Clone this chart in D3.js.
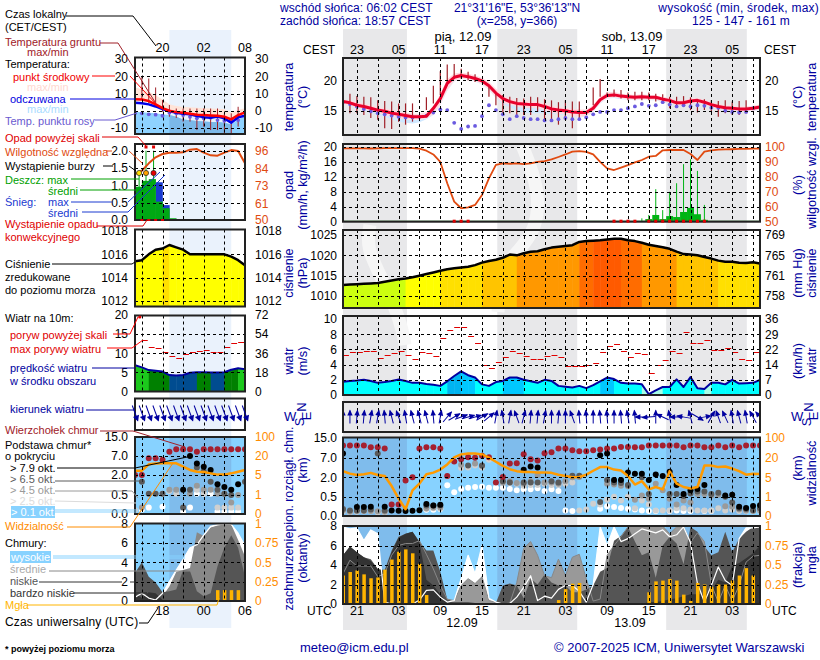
<!DOCTYPE html>
<html><head><meta charset="utf-8">
<script src="https://cdn.jsdelivr.net/npm/d3@7"></script>
<style>
html,body{margin:0;padding:0;background:#fff}
svg{display:block}
text{font-family:"Liberation Sans",Arial,sans-serif;font-size:12px}
.tick text{font-family:"Liberation Sans",Arial,sans-serif;font-size:12px}
</style></head><body><div id="c"></div>
<script>
const _=null;
/* ---------- main meteogram data: hourly, h0 = 19 UTC 11.09 ---------- */
const tempMid=[16.5,16.3,15.9,15.7,15.4,15.1,14.9,14.6,14.4,14.2,14.0,14.0,14.1,15.4,17.0,19.5,20.5,20.8,20.6,20.3,19.9,19.1,17.9,17.0,16.5,16.2,16.1,16.0,16.0,15.7,15.3,15.1,15.0,14.8,14.7,14.7,15.4,16.8,17.5,17.6,17.4,17.3,17.2,17.3,17.2,17.2,16.9,16.7,16.3,16.3,16.6,16.7,16.4,16.0,15.7,15.5,15.4,15.3,15.3,15.4,15.6];
const tempMax=[16.8,16.7,16.4,16.2,15.9,15.6,15.4,15.1,14.9,14.7,14.5,14.5,14.8,15.6,17.8,20.2,21.1,21.3,21.1,20.8,20.4,19.7,18.6,17.6,17.0,16.7,16.6,16.5,16.5,16.2,15.8,15.6,15.5,15.3,15.2,15.2,15.9,17.3,18.0,18.1,17.8,17.7,17.6,17.7,17.6,17.5,17.3,17.1,16.7,16.7,17.0,17.1,16.8,16.4,16.1,15.9,15.8,15.7,15.7,15.8,16.0];
const tempMin=[16.1,15.9,15.5,15.2,14.9,14.6,14.3,14.0,13.7,13.6,13.5,13.5,13.7,14.4,16.0,18.4,19.9,20.3,20.2,19.9,19.4,18.5,17.2,16.3,16.0,15.7,15.5,15.5,15.4,15.1,14.7,14.5,14.4,14.1,14.0,14.1,14.9,16.3,17.1,17.2,17.0,16.9,16.8,16.9,16.8,16.8,16.5,16.3,15.9,15.9,16.1,16.3,16.0,15.6,15.3,15.1,15.0,14.9,14.9,15.0,15.2];
const feelsMin=[16,15.8,15.4,15,14.7,14.3,14,13.6,13.2,13,12.9,13.1,13.6,14.3,15.9,18.3,19.8,20.2,20.1,19.8,19.3,18.4,17.1,16.1,15.6,15,14.7,14.6,14.6,14.6,14.5,14.4,14.3,14.0,13.9,14.0,14.8,16.2,17,17.1,16.9,16.8,16.7,16.8,16.7,16.7,16.4,16.2,15.8,15.8,16,16.2,15.9,15.5,15.2,15,14.9,14.8,14.8,14.9,15.1];
const groundMax=[_,17.8,17.4,17.3,17.2,16.7,16.6,16.5,16.2,16.2,16.2,_,17.2,19.1,21.5,22.6,22.7,21.9,21.4,21.0,_,19.2,17.8,17.6,17.3,17.1,17.0,17.3,17.2,16.9,16.7,16.4,16.7,16.5,16.5,_,18.8,20.2,18.0,18.5,18.4,18.0,18.1,18.1,18.0,17.8,17.7,17.3,17.3,17.4,17.2,16.9,16.9,16.7,16.6,16.7,16.5,16.6,16.7];
const groundMin=[_,14.6,14.6,14.3,13.8,13.5,12.1,12.0,13.2,12.7,13.2,_,15.1,16.2,17.6,19.2,20.3,20.3,20.0,19.7,_,17.3,15.9,14.6,14.6,14.3,14.3,14.3,14.8,13.5,13.5,12.7,13.5,12.1,13.8,_,15.9,17.3,17.3,17.3,17.0,16.7,16.7,16.7,16.7,16.5,16.2,15.4,15.5,15.7,15.1,14.7,15.1,14.8,14.0,14.6,14.3,14.3,14.6];
const dewPoint=[16.4,16.1,15.7,15.3,14.9,14.6,14.4,14.2,14.0,13.9,13.9,14.0,14.2,14.7,15.2,15.1,13.0,12.0,12.4,12.5,14.1,15.9,15.1,14.4,13.6,14.1,13.8,13.6,13.6,13.4,13.4,13.6,13.8,13.6,13.6,13.9,14.4,14.8,14.8,15.1,15.1,15.4,15.7,16.1,15.8,15.9,16.4,16.0,15.7,15.9,15.7,15.9,15.8,15.5,15.5,15.0,14.8,14.7,14.8,15.4];
const humidity=[99.1,99.1,99.1,99.1,99,99.1,99.2,99.2,99.2,99.2,99.2,98.9,97.5,95,90,75.7,63.4,59,59.6,61.2,67.9,79,88,89,88.8,89,88.6,89,90,90.6,91.7,93.3,95,96.9,97.3,96.7,95,90,85.7,84.6,86.2,87.9,89.7,91.3,93.5,94,97.8,98,98,98,95.3,91.3,96.9,97.8,98.2,98.4,98.5,98.7,98.8,98.9,98.9];
const rainHours=[44,45,46,47,48,49,50,51,52,53];
const rainMean=[0.7,1.8,0.7,1.5,1.25,2.6,3.7,2,0.5,0.1];
const rainMaxHours=[43,44,45,46,47,48,49,50,51,52];
const rainMax=[0.9,1.8,8.7,3.1,8,10.3,15.4,16.7,13.6,4.5];
const convectiveHours=[16,17,18,39,40,41,42,44,45,46,47,48,49,50,51,52];
const pressure=[1012.7,1012.8,1012.9,1013,1013.1,1013.2,1013.5,1013.8,1014.1,1014.3,1014.6,1015,1015.4,1015.8,1016.2,1016.6,1016.8,1017,1017.2,1017.6,1018.2,1018.6,1018.9,1019.4,1020.2,1020,1020.5,1020.9,1021,1021.5,1021.9,1022.1,1022.3,1022.5,1023.3,1023.5,1023.6,1023.7,1023.9,1024.1,1024.1,1023.7,1023.5,1023.1,1022.6,1022.3,1022,1021.6,1020.9,1020.3,1020.2,1020,1019.6,1019.2,1018.7,1018.4,1018.4,1018.2,1018.1,1018.3,1018];
const pressureLevel=[0,0,0,0,0,0,0,0,0,1,1,1,1,1,2,2,2,2,2,2,3,3,3,3,3,4,4,4,4,4,4,4,4,4,5,5,6,6,6,6,5,5,5,4,4,4,4,4,3,3,3,3,3,3,2,2,2,2,2,2];
const windMean=[1.75,1.85,1.9,2,1.85,1.6,1.7,1.85,2.05,1.85,1.6,1.6,1.45,1.35,1.2,1.8,2.5,3.1,2.6,2.3,1.4,1.2,1.7,1.85,2.3,2.3,2,1.8,1.6,2,1.85,1.2,1.1,1,1.2,0.9,1.3,1.8,2.3,2.1,1.6,1.5,1.5,1.4,0.1,0.6,1.05,1.05,2.05,1.05,2.35,0.9,0.8,1.6,1.6,1.4,2,1.5,1.55,1.6,2];
const windLevel=[1,1,1,1,1,1,1,1,1,1,1,1,1,1,1,3,3,2,2,1,1,1,1,2,2,2,1,1,1,1,1,1,1,1,1,1,1,2,2,1,1,1,1,0,0,0,1,1,1,1,1,1,0,1,1,1,1,1,1,1];
const gust=[5.2,5.6,5.6,5.75,5.75,4.9,5.2,5.5,5.75,5.2,4.7,5.6,5.5,5.1,7.45,8.6,9,8.9,7.7,6.8,4,3.6,4.3,4.95,5.75,5.5,5.1,4.8,4.8,5.1,5.2,4.95,3.8,3.8,3.8,4,4.15,5.6,6.5,6.7,5.75,4.95,5.5,5.35,2.85,3.9,4.55,5.75,5.5,8.25,6.9,6.9,7.2,5.9,5.9,6.15,5.6,4.7,4.55,5.6];
const windDir=[0,0,5,5,10,10,-5,-15,-20,-10,-15,-15,-15,-5,10,40,60,70,75,75,60,50,10,-10,10,-20,15,5,5,10,0,5,0,-20,-5,-5,0,-5,-5,0,-5,-10,-5,-90,-95,0,-65,-10,-90,-80,-15,120,80,30,-20,-25,-10,-15,-10,-30,-40];
const cloudTop=[11.8,11.8,11.8,11.8,11.1,11.1,10.6,0.3,0.3,1.75,2,10.6,11.1,11.1,10.6,2.3,6,6.6,7.2,7,7.8,7.2,1.6,2.1,5.5,5.6,8.4,6.6,6.3,8.8,9.2,10.6,10.6,10,9.6,9.6,10,10.2,10.6,10.6,11.2,11.2,11.1,11.1,11.8,11.8,11.8,11.8,11.8,11.1,11.8,11.8,11.1,11.1,11.8,11.1,11.8,11.1,11.8,11.8,11.8];
const base79=[8.7,_,.23,.23,.24,_,.24,.14,.135,.127,.135,.15,.31,.27,.29,_,_,_,_,_,_,_,_,_,_,_,3.9,4.75,4.5,_,_,_,_,_,_,_,_,8,8.7,1.8,1.8,3.2,2.9,2.9,1.8,2.7,2.3,3.4,1.4,.7,1,1.1,1.4,_,_,.6,.65,.24,.21,.26,.28];
const base65=[.18,.14,.14,.14,.17,8.7,.14,_,_,_,_,_,.27,.27,.27,_,_,_,5,_,5,_,_,1.7,1.6,_,1.6,1.6,1.6,_,1.7,1.6,_,2.4,2.4,_,_,.36,1.8,1.6,1.55,1.4,_,2,.7,_,_,.7,.7,.55,.75,.9,.9,.7,.8,.5,.35,.2,.18,.15,.2];
const base45=[.14,.11,.13,.13,.13,.12,.11,_,_,_,_,_,.2,.22,.22,_,_,5.2,_,5.5,4.9,_,_,1.6,1.7,1.55,1.5,1.7,2.6,1.6,1.6,1.5,1.7,2,2.1,_,_,_,1.5,1.45,1.35,1.3,.42,.6,.45,1.5,1,.45,.3,.4,.35,.7,.7,.6,.65,.25,.24,.17,.14,.13,.14];
const base25=[.12,.1,.11,.12,.12,.1,.1,_,_,_,_,_,.18,.2,.19,_,_,4.4,4.5,5,4.5,6.5,_,1.55,1.55,1.5,1.35,1.4,1.4,1.5,1.4,1.4,1.5,1.6,.14,.17,.32,.3,.42,.5,.4,.5,.2,.4,.3,.14,.14,.14,.2,.2,.17,.14,.14,.14,.2,.14,.17,.13,.13,.12,.13];
const base01=[_,_,_,_,_,_,_,_,_,_,_,_,.16,.16,.18,1.38,.85,1.1,1.2,1.25,1.27,1.2,1.2,1.2,1.1,1,1.07,1.07,1.15,.95,1.07,.95,.14,.13,_,_,_,.19,.25,.23,.21,.19,.17,.14,.13,.13,_,.13,.14,.13,.13,_,.13,.13];
const visibility=[9.7,7.8,6.8,7.3,8.4,6.8,6,3.2,.9,.35,2.3,3.7,7.3,8.6,10.9,14.8,21,33,37,37,33,20,16.9,13.8,11.2,9.7,9.1,9.1,8.6,8.6,8.4,7,6,5,5.2,7,10,12.8,12.8,10.9,10.2,6,3.5,4.2,2.5,3,2.5,9.7,3.7,3,2.7,3,14,14,12.8,13.3,11.7,9.7,7,7.8,7.5];
const cloudHigh=[7.9,7.7,7.8,6.5,7.6,7.2,.2,0,0,0,0,.4,1.4,1.45,.7,.2,.35,2.6,5,3.1,6,.6,.2,0,.05,.7,1.7,2.9,.35,.8,.6,1.5,1.9,1.9,1.3,.2,2,7.9,6,7.9,6.4,6.7,7.2,7.7,7.5,7.3,7.6,6.9,7.1,7.9,6.3,2.1,.2,1.9,3.8,2.4,1.9,6.7,7.8,7.8,7.9];
const cloudMid=[3.1,4.5,3.9,3.9,3.9,2.8,3.1,5,6,6.2,6.2,6.5,5.1,3.6,1.9,.5,.35,1.9,2.6,2.1,2.8,.35,.2,0,.1,2.2,5.7,6.4,5,2.9,2.7,4.6,2.9,4.8,5.1,2.6,.3,.5,5,6,6.9,7.9,8,7.9,8,8,8,7.2,7.9,7.9,6.3,7.3,6.4,2,.2,1.9,.3,1.9,4.3,4.9,5];
const cloudLow=[5,5.9,5.3,4.8,4.6,3.6,3.5,5.5,6.9,7.2,7.4,6.4,5.5,5.5,3.3,.5,.2,.2,.2,.1,.1,.1,.1,1.9,2.1,1.9,.6,2.6,2,3,2.2,1.9,1.9,1.2,1.2,1.5,1.9,3.3,3.7,6.5,7,7.9,6.4,5,5.3,2.7,6,6.9,6.2,4.1,7.9,7.4,5.9,5,5.3,7.4,5.3,6.7,7.4,7.9,8];
const cloudVeryLow=[5,5.9,5.3,4.8,4.4,3.6,3.3,5.3,6.8,7.2,7.4,6.3,2.5,1.9,1,.2,.1,.05,.05,0,0,0,0,0,0,0,0,0,0,0,0,0,0,0,0,0,0,0,0,0,0,0,0,0,.2,.2,.3,.5,.6,.8,1,1,1,1.4,2.5,2.2,3.9,4.2,4.7,5.2,6];
const fog=[.365,.41,.43,.38,.33,.34,.44,.57,.67,.7,.65,.515,.115,0,0,0,0,0,0,0,0,0,0,0,0,0,0,0,0,0,0,.05,.19,.26,.27,0,0,0,0,0,0,0,0,0,.15,.29,.3,.32,.3,.12,.04,.27,.25,.22,.25,.25,.3,.365,.46,.365];
const nightBands=[[0,9.2],[22.2,33.7],[46.5,58.1]];
const topTickLabels=["23","05","11","17","23","05","11","17","23","05"];
const bottomTickLabels=["21","03","09","15","21","03","09","15","21","03"];
const topTickHours=[2,8,14,20,26,32,38,44,50,56];
/* ---------- legend (sample) panels: hourly, h0 = 14 UTC ---------- */
const lgTemp=[6.7,6.5,5.6,3.7,1.5,0,-.8,-1.2,-1.7,-2.3,-2.5,-2.7,-2.9,-3.5,-5,-2.5,-1];
const lgTempMax=[13.5,12.5,11,9,6.5,3.7,2.7,2.2,2,1.7,1.5,1.3,1.2,.8,-1,.5,1.5];
const lgFeels=[4.6,4.4,3.7,2.5,1,-.2,-1.2,-1.7,-2.1,-3.1,-3.7,-4,-3.3,-4.4,-6.9,-3.8,-2.9];
const lgFeelsMin=[-.6,-.8,-1.2,-1.5,-2,-2.5,-3.5,-5,-5.5,-6,-6.3,-6.5,-6.5,-7,-8,-5,-3];
const lgDew=[-1.5,-1.5,-2.1,-2.3,-2.9,-1.2,-1.5,-2.5,-3.5,-4.4,-4.4,-4,-5.4,-5.8,-6.3,-5.4];
const lgGroundMax=[_,20,18.7,13.5,6.2,3.3,1.3,1.3,1.3,1.3,1.3,1.3,1.3,-1.5,-1.5,2.3];
const lgGroundMin=[_,6.2,4.2,2.3,-.6,-3.5,-4.2,-6.3,-6.3,-11.2,-9.2,-11.2,-11.2,-13,-13,-9.2];
const lgHumidity=[80.5,82.7,87.6,91.6,93.8,94.7,94.7,94.9,96.7,97.1,94.7,92.9,92.7,94.7,96.4,95.8,87.6];
const lgRain=[.96,1.13,1.18,.53,.34,.05];
const lgSnow=[0,0,0,1.09,.43,0];
const lgRainStickHours=[0.6,1.6,2.7];
const lgRainStick=[1.35,2,2];
const lgStorm=[[0.6,"#ffe000"],[1.6,"#ffa000"],[2.7,"#e80000"]];
const lgConvective=[1,2,3,4];
const lgPressure=[1015.4,1015.5,1016,1016.4,1016.5,1016.8,1016.6,1016.4,1016,1016,1016,1016,1016,1016,1015.8,1015.5,1015.06];
const lgWind=[6.9,6.3,5.6,5.4,5.2,4.3,4.2,4.3,4.9,5.05,5.05,4.95,4.95,5.05,5.7,6.1,5.8];
const lgGust=[_,13.5,11.6,11.3,10.4,9.4,8.7,9.8,10.4,10.7,10.8,10.4,10.4,11.6,12.7,12.9];
const lgWindDir=[160,160,160,160,160,160,160,160,160,160,160,160,160,160,160,160,160];
const lgTop=[2,2,6.4,6.4,6,8.8,9.8,9.8,9.8,8.8,9.8,9.8,9.8,9.8,9.8,9.8,9.8];
const lg79=[_,_,_,_,_,_,_,.9,7,5,4.2,3.3,1.3,1.1,.9,1.3,_];
const lg65=[_,1.5,.6,.6,.6,_,_,.17,.9,4,3,1.5,.9,.6,.5,_,1.5];
const lg45=[_,.17,_,_,_,.9,.9,_,.6,1.2,.9,.9,.6,.6,.3,.5,_];
const lg25=[.1,_,.6,_,.6,.8,.6,_,_,.9,.6,_,.17,.17,.17,.17,_];
const lg01=[_,.12,.17,_,.19,_,_,.06,.17,.6,.6,.6,.06,.06,.06,.06,_];
const lgVis=[8.4,8.4,13.4,14,14.2,14.2,14.2,11.6,9,7.6,7.4,6.3,5.3,5.3,6.3,7.6,9];
const lgHigh=[.4,.8,.3,.1,.8,2,3.2,4.3,5.5,5.8,6.8,7.7,7.9,7.9,7.9,7,5.7];
const lgMid=[1,1,.6,.5,.5,1.5,3,3.2,3.4,7.1,6.7,7.6,7.8,7.9,7.9,6.3,4.6];
const lgLow=[2.9,4,2.5,1.9,.9,1,1.2,3.2,3.1,1,.5,.8,3.6,5.5,6.8,5.5,2.5];
const lgVeryLow=[.8,.3,.9,.8,.1,0,0,0,0,0,0,0,0,0,0,0,0];
const lgFog=[0,0,0,0,0,0,0,0,0,0,0,0,.14,.14,.14,.14,0];

/* ---------- styling & layout ---------- */
const NAVY="#0000a0",ORG="#ff8c00",HUM="#e04a10",DKRED="#a02028";
const svg=d3.select("#c").append("svg").attr("width",820).attr("height",660);
const gx=d3.scaleLinear([0,60],[343,760]), lx=d3.scaleLinear([0,16],[135,245]);
const seq=a=>a.map((v,i)=>[i,v]).filter(d=>d[1]!=null);
const fmtPlain=d=>String(d);
let clipId=0;
function t(g,x,y,s,o={}){const e=g.append("text").attr("x",x).attr("y",y).text(s).attr("fill",o.fill||"#000").attr("text-anchor",o.anchor||"start");
  if(o.size)e.style("font-size",o.size+"px"); if(o.weight)e.style("font-weight",o.weight); if(o.ls)e.style("letter-spacing",o.ls+"px");
  if(o.rot!=null)e.attr("transform",`rotate(${o.rot} ${x} ${y})`); return e;}
function makePanel(x,top,bot){
  const r=x.range(),id="cp"+(clipId++);
  svg.append("clipPath").attr("id",id).append("rect").attr("x",r[0]).attr("y",top).attr("width",r[1]-r[0]).attr("height",bot-top);
  const root=svg.append("g"),g=root.append("g").attr("clip-path",`url(#${id})`);
  return {x,top,bot,g,root,left:r[0],right:r[1]};
}
function finish(p,xVals,y,yVals){
  const g=p.g;
  g.selectAll(null).data(yVals).join("line").attr("x1",p.left).attr("x2",p.right).attr("y1",d=>Math.round(y(d))+.5).attr("y2",d=>Math.round(y(d))+.5)
    .attr("stroke","#000").attr("stroke-dasharray","3 3");
  g.selectAll(null).data(xVals).join("line").attr("x1",d=>Math.round(p.x(d))+.5).attr("x2",d=>Math.round(p.x(d))+.5).attr("y1",p.top).attr("y2",p.bot)
    .attr("stroke","#000").attr("stroke-dasharray","3 3");
  p.root.append("rect").attr("x",p.left).attr("y",p.top).attr("width",p.right-p.left).attr("height",p.bot-p.top).attr("fill","none").attr("stroke","#222").attr("stroke-width",2);
}
function axis(p,side,y,vals,fmt,color,pad){
  const a=(side=="l"?d3.axisLeft(y):d3.axisRight(y)).tickValues(vals).tickSize(0).tickPadding(pad).tickFormat(fmt);
  const e=p.root.append("g").attr("transform",`translate(${side=="l"?p.left:p.right},0)`).call(a);
  e.select(".domain").remove(); e.selectAll("text").attr("fill",color||"#000");
}
const line=(x,y)=>d3.line().defined(d=>d[1]!=null).x(d=>x(d[0])).y(d=>y(d[1]));
function area(g,x,y,arr,fill,y0){
  g.append("path").datum(seq(arr)).attr("d",d3.area().x(d=>x(d[0])).y0(y0).y1(d=>y(d[1]))).attr("fill",fill);
}
function band(g,x,y,hi,lo,fill){
  const d=hi.map((v,i)=>[i,v,lo[i]]);
  g.append("path").datum(d).attr("d",d3.area().x(e=>x(e[0])).y0(e=>y(e[2])).y1(e=>y(e[1]))).attr("fill",fill);
}
function path(g,x,y,arr,stroke,w){g.append("path").datum(seq(arr)).attr("d",line(x,y)).attr("fill","none").attr("stroke",stroke).attr("stroke-width",w).attr("stroke-linejoin","round");}
function sticks(g,x,y,hi,lo,color,w){
  g.selectAll(null).data(seq(hi)).join("line").attr("x1",d=>x(d[0])).attr("x2",d=>x(d[0])).attr("y1",d=>y(d[1])).attr("y2",d=>y(lo[d[0]]))
   .attr("stroke",color).attr("stroke-width",w);
}
function dots(g,x,y,arr,r,fill){g.selectAll(null).data(seq(arr)).join("circle").attr("cx",d=>x(d[0])).attr("cy",d=>y(d[1])).attr("r",r).attr("fill",fill);}
function dashes(g,x,y,arr,color){g.selectAll(null).data(seq(arr)).join("line").attr("x1",d=>x(d[0])).attr("x2",d=>x(d[0]+1)-1).attr("y1",d=>Math.round(y(d[1]))+.5).attr("y2",d=>Math.round(y(d[1]))+.5).attr("stroke",color);}
function steppedFill(p,x,y,arr,colorOf,y0){
  const id="cp"+(clipId++);
  svg.append("clipPath").attr("id",id).append("path").datum(seq(arr)).attr("d",d3.area().x(d=>x(d[0])).y0(y0).y1(d=>y(d[1])));
  p.g.append("g").attr("clip-path",`url(#${id})`).selectAll("rect").data(arr.slice(0,-1).map((v,i)=>[i,v])).join("rect")
   .attr("x",d=>x(d[0])).attr("width",d=>x(d[0]+1)-x(d[0])+.5).attr("y",p.top).attr("height",p.bot-p.top).attr("fill",d=>colorOf(d[1],d[0]));
}
function arrows(g,x,cy,arr,len,color,hw,hl){
  const s=g.selectAll(null).data(arr.map((v,i)=>[i,v])).join("g").attr("transform",d=>`translate(${x(d[0])},${cy}) rotate(${d[1]})`);
  s.append("line").attr("y1",len).attr("y2",-len).attr("stroke",color);
  s.append("path").attr("d",`M0,${-len-1}L${-hw},${-len+hl}L${hw},${-len+hl}Z`).attr("fill",color);
}

/* background bands and the faint logo ribbons that show through them */
const bg=svg.append("g");
nightBands.forEach(b=>bg.append("rect").attr("x",gx(b[0])).attr("width",gx(b[1])-gx(b[0])).attr("y",29).attr("height",601).attr("fill","#e8e8ea"));
bg.append("rect").attr("x",lx(5)).attr("width",lx(14)-lx(5)).attr("y",30).attr("height",598).attr("fill","#eaf2fc");
const ribbon=d3.line().curve(d3.curveBasis);
[[[370,225],[366,248],[384,282],[401,322],[405,345]],[[522,145],[540,190],[536,230],[519,250],[501,270],[498,312]]].forEach(r=>
  bg.append("path").attr("d",ribbon(r)).attr("fill","none").attr("stroke","#f6f6f6").attr("stroke-width",13));

/* ---- main panels ---- */
const gridH=d3.range(2,60,3);
// temperature
{const p=makePanel(gx,58,135),y=d3.scaleLinear([15,20],[110.7,80.3]);
 band(p.g,gx,y,tempMin,feelsMin,"#cfe8ff");
 band(p.g,gx,y,tempMax,tempMin,"#ffd9e0");
 sticks(p.g,gx,y,groundMax,groundMin,"#a02028",1.2);
 dots(p.g,gx,y,dewPoint,1.9,"#6a5ae0");
 path(p.g,gx,y,tempMid,"#e8002c",3);
 finish(p,gridH,y,[15,20]);
 axis(p,"l",y,[15,20],fmtPlain,"#000",6);axis(p,"r",y,[15,20],fmtPlain,"#000",5);}
// rain + humidity
{const p=makePanel(gx,144,221.7),y=d3.scaleLinear([0,20],[221.7,147]),yh=d3.scaleLinear([50,100],[221.7,147]);
 p.g.selectAll(null).data(rainHours).join("rect").attr("x",h=>gx(h-.5)).attr("width",gx(1)-gx(0)).attr("y",(h,i)=>y(rainMean[i])).attr("height",(h,i)=>y(0)-y(rainMean[i])).attr("fill","#00b414");
 p.g.selectAll(null).data(rainMaxHours).join("line").attr("x1",h=>gx(h)).attr("x2",h=>gx(h)).attr("y1",(h,i)=>y(rainMax[i])).attr("y2",y(0)).attr("stroke","#00b414");
 p.g.append("line").attr("x1",343).attr("x2",760).attr("y1",y(0)-.5).attr("y2",y(0)-.5).attr("stroke","#2a7a2a");
 path(p.g,gx,yh,humidity,HUM,1.8);
 finish(p,gridH,y,[4,8,12,16,20]);
 p.root.selectAll(null).data(convectiveHours).join("rect").attr("x",h=>gx(h)-1.5).attr("width",3).attr("y",y(0)-2).attr("height",3).attr("fill","#e00000");
 axis(p,"l",y,[0,4,8,12,16,20],fmtPlain,"#000",6);axis(p,"r",yh,[50,60,70,80,90,100],fmtPlain,HUM,5);}
// pressure
{const p=makePanel(gx,230,308),y=d3.scaleLinear([1010,1025],[296,235]);
 const fills=["#ccff10","#ffff00","#ffe000","#ffc400","#ff9800","#ff6c00","#ff5a00"];
 steppedFill(p,gx,y,pressure,(v,i)=>fills[pressureLevel[i]],p.bot);
 path(p.g,gx,y,pressure,"#000",2.5);
 finish(p,gridH,y,[1010,1015,1020,1025]);
 const mm=["758","761","765","769"];
 axis(p,"l",y,[1010,1015,1020,1025],fmtPlain,"#000",6);axis(p,"r",y,[1010,1015,1020,1025],(d,i)=>mm[i],"#000",5);}
// wind
{const p=makePanel(gx,316,395),y=d3.scaleLinear([0,10],[395,319]);
 const fills=["#a8ffe8","#00ffff","#00c8ff","#00b4f0"];
 steppedFill(p,gx,y,windMean,(v,i)=>fills[windLevel[i]],p.bot);
 path(p.g,gx,y,windMean,"#0000a0",2);
 dashes(p.g,gx,y,gust,"#e00000");
 finish(p,gridH,y,[2,4,6,8]);
 const km=["0","7","14","22","29","36"];
 axis(p,"l",y,[0,2,4,6,8,10],fmtPlain,"#000",6);axis(p,"r",y,[0,2,4,6,8,10],(d,i)=>km[i],"#000",5);}
// wind dir
{const p=makePanel(gx,402,432),y=d3.scaleLinear([0,1],[432,402]);
 finish(p,gridH,y,[]);
 arrows(p.g,gx,417,windDir,6.5,NAVY,2.7,5);}
const cloudDomain=[0,.5,2,7,15],visDomain=[0,1,5,20,100];
// cloud base
{const p=makePanel(gx,437.5,516),y=d3.scaleLinear(cloudDomain,[516,496.7,477.3,457.7,437.5]),yv=d3.scaleLinear(visDomain,[516,496.7,477.3,457.7,437.5]);
 p.g.append("rect").attr("x",343).attr("y",437).attr("width",417).attr("height",80).attr("fill","#87d2ff");
 nightBands.forEach(b=>p.g.append("rect").attr("x",gx(b[0])).attr("width",gx(b[1])-gx(b[0])).attr("y",437).attr("height",80).attr("fill","#7fbcec"));
 dots(p.g,gx,y,base01,3,"#fff");dots(p.g,gx,y,base25,3,"#cfcfcf");dots(p.g,gx,y,base45,3,"#9a9a9a");dots(p.g,gx,y,base65,3,"#5a5a5a");dots(p.g,gx,y,base79,3,"#000");dots(p.g,gx,y,cloudTop,3,"#a52030");
 path(p.g,gx,yv,visibility,"#ff9a00",2.5);
 finish(p,gridH,y,[.5,2,7]);
 axis(p,"l",y,cloudDomain,d3.format(".1f"),"#000",6);axis(p,"r",yv,visDomain,fmtPlain,ORG,5);}
// clouds
{const p=makePanel(gx,526,604),y=d3.scaleLinear([0,8],[604,526]),yf=d3.scaleLinear([0,1],[604,526]);
 p.g.append("rect").attr("x",343).attr("y",526).attr("width",417).attr("height",78).attr("fill","#87d2ff");
 nightBands.forEach(b=>p.g.append("rect").attr("x",gx(b[0])).attr("width",gx(b[1])-gx(b[0])).attr("y",526).attr("height",78).attr("fill","#7fbcec"));
 area(p.g,gx,y,cloudHigh,"#fff",p.bot);area(p.g,gx,y,cloudMid,"#999",p.bot);area(p.g,gx,y,cloudLow,"#555",p.bot);area(p.g,gx,y,cloudVeryLow,"#333",p.bot);
 path(p.g,gx,y,cloudMid,"#888",1);path(p.g,gx,y,cloudHigh,"#fff",1.2);
 p.g.selectAll(null).data(seq(fog)).join("rect").attr("x",d=>gx(d[0])-1.5).attr("width",3.5).attr("y",d=>yf(d[1])).attr("height",d=>yf(0)-yf(d[1])).attr("fill","#ffb400");
 finish(p,gridH,y,[2,4,6]);
 axis(p,"l",y,[0,2,4,6,8],fmtPlain,"#000",6);axis(p,"r",yf,[0,.25,.5,.75,1],fmtPlain,ORG,5);}

/* ---- legend panels ---- */
const gridL=[1,4,7,10,13];
{const p=makePanel(lx,57.5,134),y=d3.scaleLinear([-10,30],[128,59]);
 area(p.g,lx,y,lgFeelsMin,"#8ed2ff",p.bot);
 area(p.g,lx,y,lgFeelsMin.map((v,i)=>i>=5&&i<=14?v:null),"#7bb8e8",p.bot);
 band(p.g,lx,y,lgTempMax,lgTemp,"#ffe4d8");
 sticks(p.g,lx,y,lgGroundMax,lgGroundMin,"#a02028",1);
 dots(p.g,lx,y,lgDew,1.9,"#6a5ae0");
 path(p.g,lx,y,lgFeels,"#0000e8",2.5);path(p.g,lx,y,lgTemp,"#ff0000",2.5);
 finish(p,gridL,y,[-10,0,10,20]);
 const v=[-10,0,10,20,30];axis(p,"l",y,v,fmtPlain,"#000",7);axis(p,"r",y,v,fmtPlain,"#000",10);}
{const p=makePanel(lx,144,220),y=d3.scaleLinear([0,2],[220,150.7]),yh=d3.scaleLinear([50,96],[220,150.7]);
 p.g.selectAll(null).data(seq(lgSnow).filter(d=>d[1]>0)).join("rect").attr("x",d=>lx(d[0])).attr("width",lx(1)-lx(0)+.3).attr("y",d=>y(d[1])).attr("height",d=>y(0)-y(d[1])).attr("fill","#1a3ad0");
 p.g.selectAll(null).data(seq(lgRain)).join("rect").attr("x",d=>lx(d[0])).attr("width",lx(1)-lx(0)+.3).attr("y",d=>y(d[1])).attr("height",d=>y(0)-y(d[1])).attr("fill","#00a814");
 p.g.selectAll(null).data(lgRainStickHours).join("line").attr("x1",h=>lx(h)).attr("x2",h=>lx(h)).attr("y1",(h,i)=>y(lgRainStick[i])).attr("y2",y(0)).attr("stroke","#00a814");
 path(p.g,lx,yh,lgHumidity,HUM,2);
 finish(p,gridL,y,[.5,1,1.5,2]);
 p.root.selectAll(null).data([1.6,2.7]).join("rect").attr("x",h=>lx(h)-1.5).attr("y",145.5).attr("width",3).attr("height",3).attr("fill","#e00000");
 p.root.selectAll(null).data(lgStorm).join("circle").attr("cx",d=>lx(d[0])).attr("cy",173).attr("r",2.6).attr("fill",d=>d[1]).attr("stroke","#222").attr("stroke-width",.7);
 p.root.selectAll(null).data(lgConvective).join("rect").attr("x",h=>lx(h)-1.5).attr("y",y(0)-1).attr("width",3).attr("height",2).attr("fill","#e00000");
 axis(p,"l",y,[0,.5,1,1.5,2],d3.format(".1f"),"#000",7);axis(p,"r",yh,[50,61,73,84,96],fmtPlain,HUM,10);}
{const p=makePanel(lx,229.5,306.5),y=d3.scaleLinear([1012,1018],[301,231]);
 steppedFill(p,lx,y,lgPressure,(v,i)=>i==4?"#ffe000":"#ffff00",p.bot);
 path(p.g,lx,y,lgPressure,"#000",2.5);
 finish(p,gridL,y,[1012,1014,1016]);
 const v=[1012,1014,1016,1018];axis(p,"l",y,v,fmtPlain,"#000",7);axis(p,"r",y,v,fmtPlain,"#000",10);}
{const p=makePanel(lx,315.5,391.5),y=d3.scaleLinear([0,20],[391.5,315]);
 const c=d3.scaleThreshold([5,6],["#004c90","#008000","#1cc81c"]);
 steppedFill(p,lx,y,lgWind,v=>c(v),p.bot);
 path(p.g,lx,y,lgWind,"#0000a0",2);
 dashes(p.g,lx,y,lgGust,"#e00000");
 finish(p,gridL,y,[5,10,15]);
 p.root.append("circle").attr("cx",lx(.7)).attr("cy",317).attr("r",1.6).attr("fill","#e00000");
 const km=["0","18","36","54","72"],v=[0,5,10,15,20];axis(p,"l",y,v,fmtPlain,"#000",7);axis(p,"r",y,v,(d,i)=>km[i],"#000",10);}
{const p=makePanel(lx,398.5,430),y=d3.scaleLinear([0,1],[430,398]);
 finish(p,gridL,y,[]);
 arrows(p.root,lx,413,lgWindDir,8,NAVY,3.2,5);}
{const p=makePanel(lx,437,514),y=d3.scaleLinear(cloudDomain,[514,495,475,456,436.7]),yv=d3.scaleLinear(visDomain,[514,495,475,456,436.7]);
 p.g.append("rect").attr("x",135).attr("y",436).attr("width",110).attr("height",80).attr("fill","#87d2ff");
 p.g.append("rect").attr("x",lx(5)).attr("width",lx(14)-lx(5)).attr("y",436).attr("height",80).attr("fill","#7fbcec");
 dots(p.g,lx,y,lg01,3,"#fff");dots(p.g,lx,y,lg25,3,"#cfcfcf");dots(p.g,lx,y,lg45,3,"#9a9a9a");dots(p.g,lx,y,lg65,3,"#5a5a5a");dots(p.g,lx,y,lg79,3,"#000");dots(p.g,lx,y,lgTop,3,"#a52030");
 path(p.g,lx,yv,lgVis,"#ff9a00",2.5);
 finish(p,gridL,y,[.5,2,7]);
 axis(p,"l",y,cloudDomain,d3.format(".1f"),"#000",7);axis(p,"r",yv,visDomain,fmtPlain,ORG,10);}
{const p=makePanel(lx,523.5,601),y=d3.scaleLinear([0,8],[601,523.5]),yf=d3.scaleLinear([0,1],[601,523.5]);
 p.g.append("rect").attr("x",135).attr("y",523).attr("width",110).attr("height",80).attr("fill","#87d2ff");
 p.g.append("rect").attr("x",lx(5)).attr("width",lx(14)-lx(5)).attr("y",523).attr("height",80).attr("fill","#7fbcec");
 area(p.g,lx,y,lgHigh,"#fff",p.bot);area(p.g,lx,y,lgMid,"#888",p.bot);area(p.g,lx,y,lgLow,"#555",p.bot);area(p.g,lx,y,lgVeryLow,"#333",p.bot);
 path(p.g,lx,y,lgHigh,"#fff",1.2);
 p.g.selectAll(null).data(seq(lgFog).filter(d=>d[1]>0)).join("rect").attr("x",d=>lx(d[0])-1.5).attr("width",3.5).attr("y",d=>yf(d[1])).attr("height",d=>yf(0)-yf(d[1])).attr("fill","#ffb400");
 finish(p,gridL,y,[2,4,6]);
 axis(p,"l",y,[0,2,4,6,8],fmtPlain,"#000",7);axis(p,"r",yf,[0,.25,.5,.75,1],fmtPlain,ORG,10);}

/* ---- texts ---- */
const T=svg.append("g");
t(T,280,12,"wschód słońca: 06:02 CEST",{fill:NAVY,ls:.08});t(T,280,25,"zachód słońca: 18:57 CEST",{fill:NAVY,ls:.08});
t(T,517,12,"21°31'16\"E, 53°36'13\"N",{fill:NAVY,anchor:"middle"});t(T,517,25,"(x=258,  y=366)",{fill:NAVY,anchor:"middle"});
t(T,819,12,"wysokość (min, środek, max)",{fill:NAVY,anchor:"end",ls:.22});t(T,741,25,"125 - 147 - 161 m",{fill:NAVY,anchor:"middle",ls:.2});
t(T,303,54,"CEST");t(T,764,54,"CEST");
t(T,463,41,"pią, 12.09",{anchor:"middle",size:13});t(T,632,41,"sob, 13.09",{anchor:"middle",size:13});
topTickHours.forEach((h,i)=>{t(T,gx(h),54,topTickLabels[i],{anchor:"middle",size:12.5});t(T,gx(h),615,bottomTickLabels[i],{anchor:"middle",size:12.5});});
t(T,307,615,"UTC");t(T,772,615,"UTC");
t(T,462,627,"12.09",{anchor:"middle",size:12.5});t(T,630,627,"13.09",{anchor:"middle",size:12.5});
[[0,"20","18"],[1,"02","00"],[2,"08","06"]].forEach(d=>{const h=4+d[0]*6;t(T,lx(h),52,d[1],{anchor:"middle",size:12.5});t(T,lx(h),615,d[2],{anchor:"middle",size:12.5});});
t(T,300,652,"meteo@icm.edu.pl",{fill:NAVY,size:13});t(T,554,652,"© 2007-2025 ICM, Uniwersytet Warszawski",{fill:NAVY,size:13});
t(T,5,652,"* powyżej poziomu morza",{size:9,weight:"bold"});

const rotL=[[293,97,"temperatura"],[307,97,"(°C)"],[293,185,"opad"],[307,185,"(mm/h, kg/m²/h)"],[293,273,"ciśnienie"],[307,273,"(hPa)"],[293,361,"wiatr"],[307,361,"(m/s)"],
 [293,479,"pion. rozciągł. chm."],[307,470,"(km)"],[293,571,"zachmurzenie"],[307,558,"(oktanty)"],
 [802,97,"(°C)"],[816,97,"temperatura"],[802,185,"(%)"],[816,183,"wilgotność wzgl."],[802,273,"(mm Hg)"],[816,273,"ciśnienie"],[802,361,"(km/h)"],[816,361,"wiatr"],
 [802,468,"(km)"],[816,473,"widzialność"],[802,565,"(frakcja)"],[816,560,"mgła"]];
rotL.forEach(d=>t(T,d[0],d[1],d[2],{fill:NAVY,anchor:"middle",rot:-90,size:d[2].startsWith("pion")?12.2:12.7}));
[284,791].forEach(o=>{t(T,o,421,"W",{fill:NAVY,size:13});
 t(T,o+20,422,"S",{fill:NAVY,rot:-90,anchor:"middle",size:13});t(T,o+22,407,"N",{fill:NAVY,rot:-90,anchor:"middle",size:13});t(T,o+27,416,"E",{fill:NAVY,rot:-90,anchor:"middle",size:13});});

const legend=[
["Czas lokalny",5,18,"#000"],["(CET/CEST)",5,31,"#000"],["Temperatura gruntu",5,46,DKRED],["max/min",27,56,DKRED],["Temperatura:",5,68,"#000"],
["punkt środkowy",13,81,"#f00000"],["max/min",27,91,"#ffd8d0"],["odczuwana",10,103,"#0000e0"],["max/min",27,113,"#a8dcff"],["Temp. punktu rosy",5,125,"#6a5ad0"],
["Opad powyżej skali",5,142,"#e00000"],["Wilgotność względna",5,156,HUM],["Wystąpienie burzy",5,170,"#000"],["Deszcz: max",5,184,"#00a000"],["średni",48,195,"#00a000"],
["Śnieg:",5,206,"#1a3ad0"],["max",48,206,"#1a3ad0"],["średni",48,217,"#1a3ad0"],["Wystąpienie opadu",5,228,"#e00000"],["konwekcyjnego",5,241,"#e00000"],
["Ciśnienie",5,268,"#000"],["zredukowane",5,281,"#000"],["do poziomu morza",5,294,"#000"],["Wiatr na 10m:",5,322,"#000"],
["poryw powyżej skali",10,339,"#e00000"],["max porywy wiatru",10,353,"#e00000"],["prędkość wiatru",10,372,NAVY],["w środku obszaru",10,385,NAVY],["kierunek wiatru",10,413,NAVY],
["Wierzchołek chmur",5,434,DKRED],["Podstawa chmur*",5,449,"#000"],["o pokryciu",5,460,"#000"],["> 7.9 okt.",10,472,"#000"],["> 6.5 okt.",10,483,"#5a5a5a"],
["> 4.5 okt.",10,494,"#9a9a9a"],["> 2.5 okt.",10,505,"#dcdcdc"],["Widzialność",5,530,ORG],["Chmury:",5,547,"#000"],["średnie",10,573,"#aaa"],["niskie",10,585,"#555"],
["bardzo niskie",10,597,"#333"],["Mgła",5,609,"#ffb400"]];
T.append("rect").attr("x",11).attr("y",506).attr("width",44).attr("height",12).attr("fill","#87d2ff");
T.append("rect").attr("x",10).attr("y",551).attr("width",41).attr("height",12).attr("fill","#87d2ff");
t(T,11,516,"> 0.1 okt.",{fill:"#fff",size:11});t(T,11,561,"wysokie",{fill:"#fff",size:11});
legend.forEach(d=>t(T,d[1],d[2],d[0],{fill:d[3],size:11}));
t(T,5,626,"Czas uniwersalny (UTC)",{size:12,ls:.15});

const leaders=[
[[[66,16],[133,16],[156,46]],"#000"],[[[100,43],[118,43],[155,102]],DKRED],[[[92,76],[115,76]],"#f00"],[[[130,76],[157,105]],"#f00"],[[[70,99],[135,99]],"#0000e0"],
[[[95,120],[115,120],[137,113]],"#6a5ad0"],[[[102,137],[138,137],[146,146]],"#e00000"],[[[106,151],[112,151]],HUM],[[[129,151],[142,163]],HUM],[[[103,166],[113,166]],"#000"],[[[129,166],[136,171]],"#000"],
[[[71,179],[139,179]],"#00a000"],[[[80,190],[145,190]],"#00a000"],[[[71,202],[112,202]],"#1a3ad0"],[[[128,202],[160,172]],"#1a3ad0"],[[[82,212],[128,212],[165,175]],"#1a3ad0"],
[[[97,226],[143,226],[147,220]],"#e00000"],[[[52,264],[132,264],[135,262]],"#000"],[[[113,334],[130,334],[138,317]],"#f00"],[[[107,348],[132,348],[143,340]],"#f00"],[[[92,368],[135,368]],NAVY],[[[86,410],[135,410]],NAVY],
[[[100,431],[133,431],[185,447]],DKRED],[[[57,468],[135,468],[192,456]],"#000"],[[[55,481],[143,481]],"#5a5a5a"],[[[55,491],[132,491],[138,498]],"#9a9a9a"],[[[55,501],[136,503]],"#dcdcdc"],
[[[55,510],[137,510]],"#87d2ff"],[[[55,512],[137,512]],"#87d2ff"],[[[67,527],[130,527],[173,463]],ORG],[[[53,556],[185,556]],"#87d2ff"],[[[53,558],[185,558]],"#87d2ff"],[[[49,571],[193,571]],"#888"],
[[[39,582],[122,582]],"#333"],[[[130,582],[135,582]],"#333"],[[[74,593],[147,593]],"#222"],[[[27,605],[217,605],[219,598]],"#ffb400"],[[[139,623],[148,623],[158,608]],"#000"]];
const lg=d3.line();
svg.append("g").selectAll("path").data(leaders).join("path").attr("d",d=>lg(d[0])).attr("fill","none").attr("stroke",d=>d[1]);
</script></body></html>
